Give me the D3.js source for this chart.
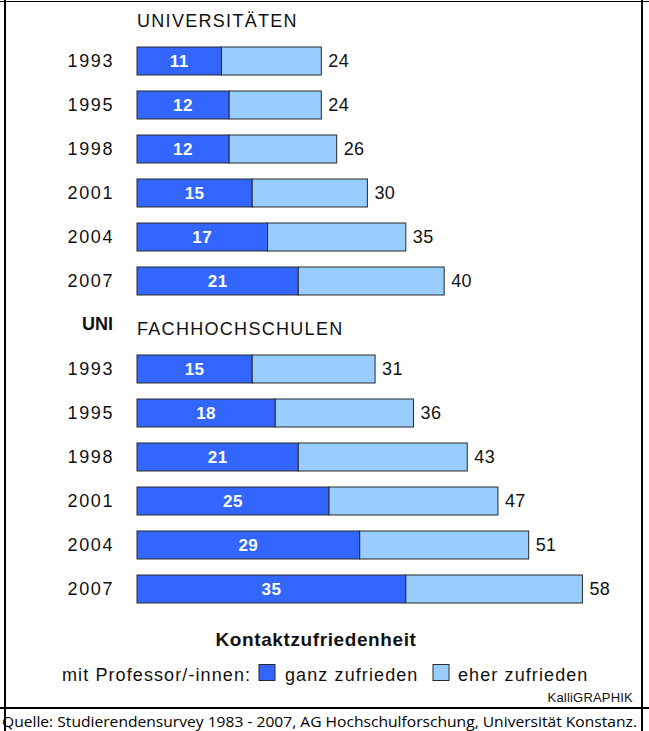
<!DOCTYPE html>
<html>
<head>
<meta charset="utf-8">
<script src="https://cdn.jsdelivr.net/npm/d3@7"></script>
<style>
  html, body { margin: 0; padding: 0; background: #fff; }
  svg { display: block; }
  text { font-family: "Liberation Sans", Arial, Helvetica, sans-serif; }
</style>
</head>
<body>
<svg id="chart" width="649" height="731"></svg>
<script>
// ---- data ----
const years = ["1993", "1995", "1998", "2001", "2004", "2007"];
const uniGanz = [11, 12, 12, 15, 17, 21];
const uniEher = [13, 12, 14, 15, 18, 19];   // totals 24,24,26,30,35,40
const fhGanz  = [15, 18, 21, 25, 29, 35];
const fhEher  = [16, 18, 22, 22, 22, 23];   // totals 31,36,43,47,51,58
const groupTitles = ["UNIVERSITÄTEN", "FACHHOCHSCHULEN"];
const legendLabels = ["ganz zufrieden", "eher zufrieden"];
const titleText = "Kontaktzufriedenheit";
const legendPrefix = "mit Professor/-innen:";
const credit = "KalliGRAPHIK";
const source = "Quelle: Studierendensurvey 1983 - 2007, AG Hochschulforschung, Universität Konstanz.";

const DARK = "#3366ff", LIGHT = "#99ccff", STROKE = "#2a2a2a";

const svg = d3.select("#chart");

// frame
svg.append("line").attr("x1", 0).attr("x2", 649).attr("y1", 1.5).attr("y2", 1.5).attr("stroke", "#000").attr("stroke-width", 1);
svg.append("line").attr("x1", 5).attr("x2", 5).attr("y1", 0).attr("y2", 731).attr("stroke", "#000").attr("stroke-width", 2);
svg.append("line").attr("x1", 642).attr("x2", 642).attr("y1", 0).attr("y2", 731).attr("stroke", "#000").attr("stroke-width", 2);
svg.append("line").attr("x1", 0).attr("x2", 649).attr("y1", 708).attr("y2", 708).attr("stroke", "#000").attr("stroke-width", 2);

const x = d3.scaleLinear().domain([0, 60]).range([137, 137 + 60 * 7.68]);

function drawGroup(ganz, eher, rangeY, title, titleY) {
  const y = d3.scaleBand().domain(years).range(rangeY).paddingInner(16 / 44).paddingOuter(8 / 44);
  const data = years.map((yr, i) => ({ yr, g: ganz[i], e: eher[i], t: ganz[i] + eher[i] }));
  const g = svg.append("g");

  g.append("text").attr("x", 137).attr("y", titleY)
    .attr("font-size", 18).attr("letter-spacing", 1.3).attr("fill", "#111").text(title);

  const row = g.selectAll("g.row").data(data).join("g").attr("class", "row");

  row.append("rect")
    .attr("x", x(0)).attr("y", d => y(d.yr))
    .attr("width", d => x(d.g) - x(0)).attr("height", y.bandwidth())
    .attr("fill", DARK).attr("stroke", STROKE).attr("stroke-width", 1);
  row.append("rect")
    .attr("x", d => x(d.g)).attr("y", d => y(d.yr))
    .attr("width", d => x(d.t) - x(d.g)).attr("height", y.bandwidth())
    .attr("fill", LIGHT).attr("stroke", STROKE).attr("stroke-width", 1);

  row.append("text")
    .attr("x", 114).attr("y", d => y(d.yr) + y.bandwidth() / 2).attr("dy", "0.36em")
    .attr("text-anchor", "end").attr("font-size", 18).attr("letter-spacing", 1.6).attr("fill", "#111")
    .text(d => d.yr);

  row.append("text")
    .attr("x", d => (x(0) + x(d.g)) / 2).attr("y", d => y(d.yr) + y.bandwidth() / 2).attr("dy", "0.36em")
    .attr("text-anchor", "middle").attr("font-size", 17).attr("font-weight", "bold")
    .attr("letter-spacing", 0.5).attr("fill", "#fff")
    .text(d => d.g);

  row.append("text")
    .attr("x", d => x(d.t) + 7).attr("y", d => y(d.yr) + y.bandwidth() / 2).attr("dy", "0.36em")
    .attr("font-size", 18).attr("letter-spacing", 0.4).attr("fill", "#111")
    .text(d => d.t);
}

drawGroup(uniGanz, uniEher, [39, 303], groupTitles[0], 27);
drawGroup(fhGanz, fhEher, [347, 611], groupTitles[1], 335);

svg.append("text").attr("x", 113).attr("y", 330).attr("text-anchor", "end")
  .attr("font-size", 18).attr("font-weight", "bold").attr("fill", "#111").text("UNI");

// title & legend
svg.append("text").attr("x", 316).attr("y", 646).attr("text-anchor", "middle")
  .attr("font-size", 19).attr("font-weight", "bold").attr("letter-spacing", 0.6).attr("fill", "#111").text(titleText);

const ly = 681;
svg.append("text").attr("x", 62).attr("y", ly).attr("font-size", 18).attr("letter-spacing", 1.1).attr("fill", "#111").text(legendPrefix);
const legendItems = [
  { color: DARK, label: legendLabels[0], sx: 259, tx: 285 },
  { color: LIGHT, label: legendLabels[1], sx: 433, tx: 458 }
];
const li = svg.selectAll("g.leg").data(legendItems).join("g").attr("class", "leg");
li.append("rect").attr("x", d => d.sx).attr("y", 664.5).attr("width", 16).attr("height", 16)
  .attr("fill", d => d.color).attr("stroke", STROKE).attr("stroke-width", 1);
li.append("text").attr("x", d => d.tx).attr("y", ly).attr("font-size", 18).attr("letter-spacing", 1.1)
  .attr("fill", "#111").text(d => d.label);

svg.append("text").attr("x", 633).attr("y", 702).attr("text-anchor", "end")
  .attr("font-size", 13).attr("letter-spacing", 0.2).attr("fill", "#111").text(credit);

svg.append("text").attr("x", 2).attr("y", 727)
  .style("font-family", "'Open Sans', 'Noto Sans', sans-serif")
  .attr("font-size", 15).attr("fill", "#000")
  .attr("textLength", 635).attr("lengthAdjust", "spacingAndGlyphs")
  .text(source);
</script>
</body>
</html>
